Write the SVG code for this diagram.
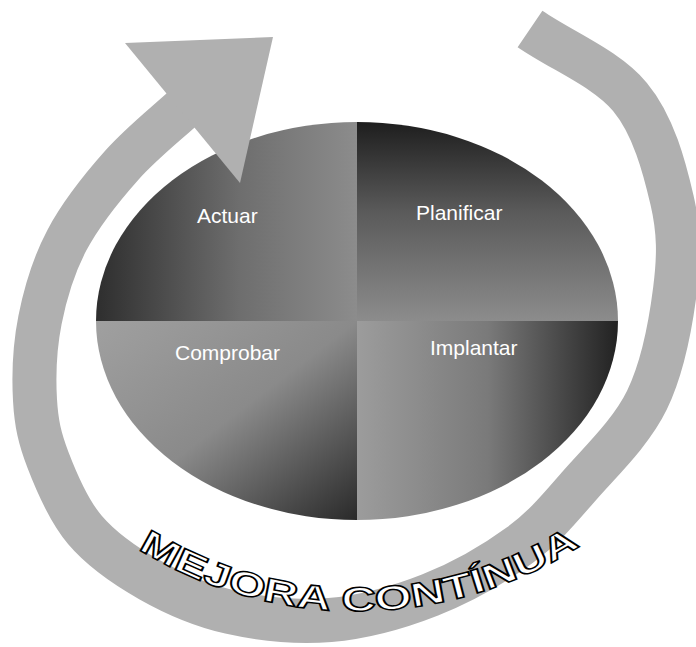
<svg xmlns="http://www.w3.org/2000/svg" width="696" height="647" viewBox="0 0 696 647">
  <style>
    .lbl { font-family: "Liberation Sans", Arial, sans-serif; font-size: 21px; fill: #ffffff; }
    .band { fill: none; stroke: #b0b0b0; stroke-width: 44; stroke-linecap: butt; }
    .head { fill: #b0b0b0; }
    .title { font-family: "Liberation Sans", Arial, sans-serif; font-weight: bold; font-size: 34px; fill: #ffffff; stroke: #000000; stroke-width: 1.5; }
  </style>
  <defs>
    <linearGradient id="gA" x1="0" y1="0" x2="1" y2="0">
      <stop offset="0" stop-color="#2e2e2e"/>
      <stop offset="0.55" stop-color="#6e6e6e"/>
      <stop offset="1" stop-color="#8c8c8c"/>
    </linearGradient>
    <linearGradient id="gP" x1="0" y1="0" x2="0" y2="1">
      <stop offset="0" stop-color="#1e1e1e"/>
      <stop offset="0.45" stop-color="#5a5a5a"/>
      <stop offset="1" stop-color="#8c8c8c"/>
    </linearGradient>
    <linearGradient id="gC" x1="0" y1="0" x2="1" y2="1">
      <stop offset="0" stop-color="#a0a0a0"/>
      <stop offset="0.5" stop-color="#8a8a8a"/>
      <stop offset="1" stop-color="#2a2a2a"/>
    </linearGradient>
    <linearGradient id="gI" x1="0" y1="0" x2="1" y2="0">
      <stop offset="0" stop-color="#9c9c9c"/>
      <stop offset="0.5" stop-color="#7a7a7a"/>
      <stop offset="1" stop-color="#222222"/>
    </linearGradient>
    <path id="arcText" d="M138,549 A416,416 0 0 0 586,542"/>
  </defs>

  <g id="actuar">
    <path d="M357,321 L96,321 A261,199 0 0 1 357,122 Z" fill="url(#gA)"/>
    <text class="lbl" x="197" y="223">Actuar</text>
  </g>
  <g id="planificar">
    <path d="M357,321 L357,122 A261,199 0 0 1 618,321 Z" fill="url(#gP)"/>
    <text class="lbl" x="416" y="220">Planificar</text>
  </g>
  <g id="implantar">
    <path d="M357,321 L618,321 A261,199 0 0 1 357,520 Z" fill="url(#gI)"/>
    <text class="lbl" x="430" y="355">Implantar</text>
  </g>
  <g id="comprobar">
    <path d="M357,321 L357,520 A261,199 0 0 1 96,321 Z" fill="url(#gC)"/>
    <text class="lbl" x="175" y="360">Comprobar</text>
  </g>

  <g id="connectors">
    <path class="band" d="M530,29 C563.3,51.7 606.3,68.5 630,97 C653.7,125.5 664.5,167.8 672,200 C679.5,232.2 679.2,256.7 675,290 C670.8,323.3 662.8,367.5 647,400 C631.2,432.5 601.2,460.8 580,485 C558.8,509.2 545,526.7 520,545 C495,563.3 461.7,582.5 430,595 C398.3,607.5 363.3,617.2 330,620 C296.7,622.8 260,618.7 230,612 C200,605.3 174.2,593.7 150,580 C125.8,566.3 102,550 85,530 C68,510 56.3,481.7 48,460 C39.7,438.3 36.3,423.3 35,400 C33.7,376.7 34.7,346.7 40,320 C45.3,293.3 53.3,265.8 67,240 C80.7,214.2 101.5,188 122,165 C142.5,142 167.3,123 190,102"/>
    <polygon class="head" points="125,43 273,37 240,183"/>
  </g>

  <g id="mejora">
    <text class="title"><textPath href="#arcText" textLength="466" lengthAdjust="spacingAndGlyphs">MEJORA CONTÍNUA</textPath></text>
  </g>
</svg>
